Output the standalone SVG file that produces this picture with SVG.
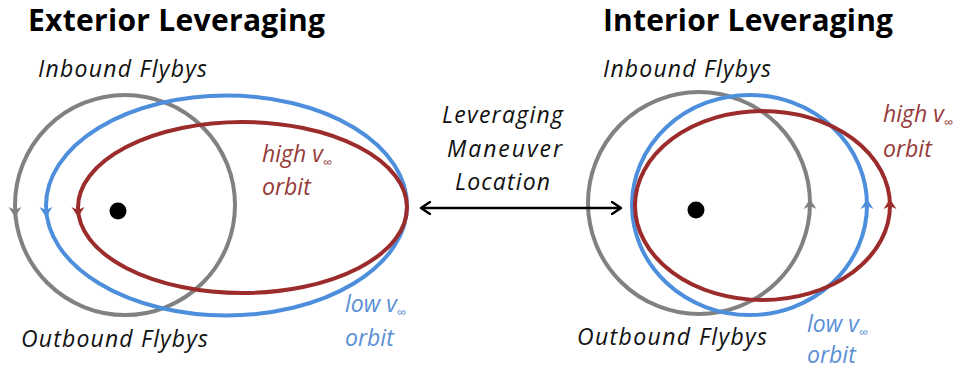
<svg xmlns="http://www.w3.org/2000/svg" width="970" height="374" viewBox="0 0 970 374">
  <defs>
    <style>
      .orbit { fill: none; stroke-width: 4; }
      .gray { stroke: #818181; }
      .blue { stroke: #4d8fdc; }
      .red { stroke: #9c2c2c; }
      .ah-gray { fill: #818181; }
      .ah-blue { fill: #4d8fdc; }
      .ah-red { fill: #9c2c2c; }
      .title { font-family: "Open Sans", Lato, "Liberation Sans", sans-serif; font-weight: 700; font-size: 30px; fill: #000; }
      .lbl { font-family: "Open Sans", Lato, "Liberation Sans", sans-serif; font-style: italic; font-size: 23px; fill: #111; }
      .hi { fill: #963a3a; }
      .lo { fill: #5b8fd6; }
      .sub { font-size: 13px; }
    </style>
    <!-- small head drawn on an orbit line, pointing down; rotate for up -->
    <path id="head" d="M -6.5,-4 L 0,6 L 6.5,-4 L 0,-1 Z"/>
    <marker id="tip" viewBox="0 0 12 14" refX="10" refY="7" markerWidth="12" markerHeight="14" markerUnits="userSpaceOnUse" orient="auto-start-reverse">
      <path d="M 1,1 L 10,7 L 1,13" fill="none" stroke="#000" stroke-width="2.5" stroke-linecap="round" stroke-linejoin="round"/>
    </marker>
  </defs>

  <!-- Exterior leveraging -->
  <g id="exterior">
    <text class="title" x="28" y="31" textLength="297">Exterior Leveraging</text>
    <text class="lbl" x="38" y="77" textLength="169">Inbound Flybys</text>
    <text class="lbl" x="21" y="347" textLength="187">Outbound Flybys</text>
    <g id="ext-gray">
      <circle class="orbit gray" cx="125" cy="205" r="110"/>
      <use href="#head" class="ah-gray" x="15" y="211"/>
    </g>
    <g id="ext-blue">
      <ellipse class="orbit blue" cx="226.5" cy="205.5" rx="180.5" ry="110"/>
      <use href="#head" class="ah-blue" x="46" y="211"/>
    </g>
    <g id="ext-red">
      <ellipse class="orbit red" cx="242.5" cy="207.5" rx="164.5" ry="85.5"/>
      <use href="#head" class="ah-red" x="78" y="211"/>
    </g>
    <circle id="ext-body" cx="118" cy="211" r="8.5" fill="#000"/>
    <text class="lbl hi" x="262" y="162">high v<tspan class="sub" dy="5">∞</tspan></text>
    <text class="lbl hi" x="262" y="195">orbit</text>
    <text class="lbl lo" x="345" y="312">low v<tspan class="sub" dy="5">∞</tspan></text>
    <text class="lbl lo" x="345" y="346">orbit</text>
  </g>

  <!-- Interior leveraging -->
  <g id="interior">
    <text class="title" x="603" y="31" textLength="290">Interior Leveraging</text>
    <text class="lbl" x="603" y="77" textLength="168">Inbound Flybys</text>
    <text class="lbl" x="577" y="345" textLength="190">Outbound Flybys</text>
    <g id="int-gray">
      <circle class="orbit gray" cx="699" cy="203" r="111"/>
      <use href="#head" class="ah-gray" transform="translate(810,205) rotate(180)"/>
    </g>
    <g id="int-blue">
      <ellipse class="orbit blue" cx="749.5" cy="205" rx="117.5" ry="110"/>
      <use href="#head" class="ah-blue" transform="translate(867,205) rotate(180)"/>
    </g>
    <g id="int-red">
      <ellipse class="orbit red" cx="762.5" cy="205.5" rx="127.5" ry="94.5"/>
      <use href="#head" class="ah-red" transform="translate(890,205) rotate(180)"/>
    </g>
    <circle id="int-body" cx="696" cy="210" r="8.5" fill="#000"/>
    <text class="lbl hi" x="883" y="122">high v<tspan class="sub" dy="5">∞</tspan></text>
    <text class="lbl hi" x="883" y="157">orbit</text>
    <text class="lbl lo" x="807" y="332">low v<tspan class="sub" dy="5">∞</tspan></text>
    <text class="lbl lo" x="807" y="363">orbit</text>
  </g>

  <!-- Leveraging maneuver location -->
  <g id="maneuver">
    <text class="lbl" x="442" y="123" textLength="121">Leveraging</text>
    <text class="lbl" x="447" y="157" textLength="115">Maneuver</text>
    <text class="lbl" x="455" y="190" textLength="95">Location</text>
  </g>

  <g id="connectors">
    <line x1="421" y1="208" x2="621" y2="208" stroke="#000" stroke-width="2.5" marker-start="url(#tip)" marker-end="url(#tip)"/>
  </g>
</svg>
